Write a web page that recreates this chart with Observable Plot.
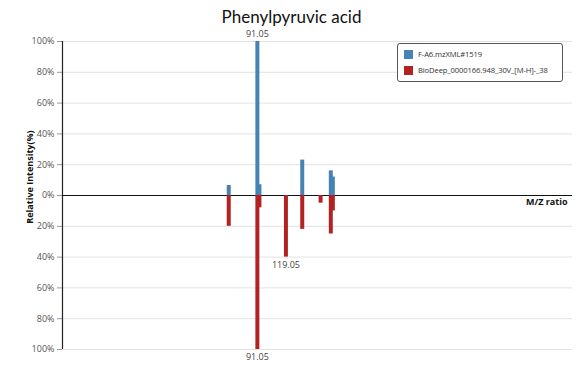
<!DOCTYPE html>
<html>
<head>
<meta charset="utf-8">
<script src="https://cdn.jsdelivr.net/npm/d3@7"></script>
<script src="https://cdn.jsdelivr.net/npm/@observablehq/plot@0.6"></script>
<style>
  body { margin: 0; background: #fff; font-family: "Open Sans", "Noto Sans", sans-serif; }
  #wrap { position: relative; width: 583px; height: 365px; }
  #title { position: absolute; left: 0; width: 583px; top: 6px; text-align: center; font-family: Lato, "Open Sans", sans-serif; font-size: 17px; color: #111; }
  #legend { position: absolute; left: 397px; top: 43px; width: 164px; height: 37px; border: 1px solid #555; border-radius: 3px; background: #fff; font-family: "Open Sans", sans-serif; font-size: 7.6px; letter-spacing: -0.1px; color: #333; box-sizing: content-box; }
  .item { position: absolute; left: 6px; display: flex; align-items: center; white-space: nowrap; }
  .sw { width: 9px; height: 9px; margin-right: 5px; }
</style>
</head>
<body>
<div id="wrap">
  <div id="chart"></div>
  <div id="title">Phenylpyruvic acid</div>
  <div id="legend"></div>
</div>
<script>
// Sample spectrum (blue, upward)
const sampleName = "F-A6.mzXML#1519";
const sampleMz = [62.98, 91.05, 93.05, 135.04, 163.04, 165.04];
const sampleIntensity = [6.5, 100, 7, 23, 16, 12];

// Reference spectrum (red, downward)
const refName = "BioDeep_0000166.948_30V_[M-H]-_38";
const refMz = [62.98, 91.05, 93.05, 119.05, 135.04, 153.0, 163.04, 165.04];
const refIntensity = [20, 100, 8, 40, 22, 5, 25, 10];

// Peak annotations
const labelMz = [91.05, 119.05, 91.05];
const labelY = [100, -40, -100];
const labelText = ["91.05", "119.05", "91.05"];

const yTicks = [-100, -80, -60, -40, -20, 0, 20, 40, 60, 80, 100];

const blue = "#4682B4";
const red = "#B22222";

const sample = sampleMz.map((mz, i) => ({mz, v: sampleIntensity[i]}));
const ref = refMz.map((mz, i) => ({mz, v: -refIntensity[i]}));
const labels = labelMz.map((mz, i) => ({mz, y: labelY[i], t: labelText[i], up: labelY[i] > 0}));

const chart = Plot.plot({
  width: 583,
  height: 365,
  marginLeft: 62,
  marginRight: 11,
  marginTop: 41,
  marginBottom: 16,
  style: {fontFamily: "'Open Sans', 'Noto Sans', sans-serif", background: "white"},
  x: {domain: [-100, 400], axis: null},
  y: {domain: [-100, 100]},
  marks: [
    Plot.gridY(yTicks, {stroke: "#e2e2e2", strokeOpacity: 1}),
    Plot.axisY(yTicks, {tickFormat: d => Math.abs(d) + "%", label: null, tickSize: 5, tickPadding: 3, fontSize: 9, color: "#555", stroke: "#999"}),
    Plot.ruleX([-100], {stroke: "#222", strokeWidth: 1.2}),
    Plot.ruleY([0], {stroke: "#111", strokeWidth: 1.2}),
    Plot.ruleX(sample, {x: "mz", y1: 0, y2: "v", stroke: blue, strokeWidth: 4}),
    Plot.ruleX(ref, {x: "mz", y1: 0, y2: "v", stroke: red, strokeWidth: 4}),
    Plot.text(labels.filter(d => d.up), {x: "mz", y: "y", text: "t", dy: -7, fontSize: 9, fill: "#444"}),
    Plot.text(labels.filter(d => !d.up), {x: "mz", y: "y", text: "t", dy: 8, fontSize: 9, fill: "#444"}),
    Plot.text(["M/Z ratio"], {x: 400, y: 0, text: d => d, textAnchor: "end", dx: -5, dy: 7, fontSize: 9, fontWeight: "bold", fill: "#111"}),
    Plot.text(["Relative Intensity(%)"], {x: -100, y: 12, text: d => d, rotate: -90, dx: -32, fontSize: 9, fontWeight: "bold", fill: "#111"})
  ]
});
document.getElementById("chart").appendChild(chart);

const legend = document.getElementById("legend");
[[sampleName, blue, 5], [refName, red, 21]].forEach(([name, color, top]) => {
  const item = document.createElement("div");
  item.className = "item";
  item.style.top = top + "px";
  const sw = document.createElement("div");
  sw.className = "sw";
  sw.style.background = color;
  const span = document.createElement("span");
  span.textContent = name;
  item.appendChild(sw);
  item.appendChild(span);
  legend.appendChild(item);
});
</script>
</body>
</html>
